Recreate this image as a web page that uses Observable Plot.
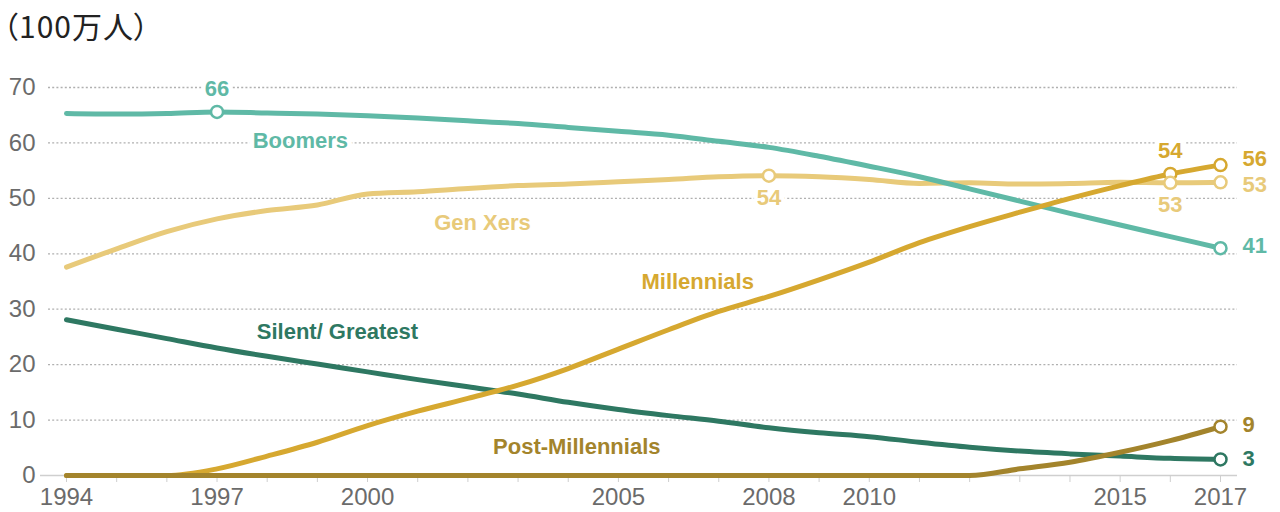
<!DOCTYPE html>
<html>
<head>
<meta charset="utf-8">
<script src="https://cdn.jsdelivr.net/npm/d3@7"></script>
<script src="https://cdn.jsdelivr.net/npm/@observablehq/plot@0.6"></script>
<style>
  html, body { margin: 0; padding: 0; background: #fff; }
  #title { height: 50px; line-height: 50px; padding-left: 3px; font-family: "Noto Sans CJK JP", sans-serif; font-size: 30px; color: #222; font-feature-settings: "palt"; letter-spacing: 1px; }
</style>
</head>
<body>
<div id="title">（100万人）</div>
<div id="chart"></div>
<script>
const years = [1994,1995,1996,1997,1998,1999,2000,2001,2002,2003,2004,2005,2006,2007,2008,2009,2010,2011,2012,2013,2014,2015,2016,2017];
const boomers = [65.3,65.2,65.3,65.6,65.4,65.2,64.9,64.5,64.0,63.5,62.8,62.1,61.4,60.3,59.2,57.6,55.8,53.9,51.7,49.5,47.3,45.2,43.1,41.0];
const genXers = [37.6,40.9,44.0,46.3,47.8,48.8,50.8,51.2,51.8,52.3,52.6,53.0,53.4,53.9,54.1,53.9,53.4,52.7,52.8,52.6,52.7,52.9,52.8,52.9];
const millennials = [0,0,0,1.2,3.5,6.0,9.0,11.6,13.9,16.3,19.3,22.8,26.3,29.6,32.3,35.3,38.5,42.0,44.9,47.5,50.0,52.3,54.4,56.0];
const silentGreatest = [28.1,26.4,24.7,23.0,21.5,20.1,18.7,17.3,16.0,14.7,13.2,11.9,10.8,9.8,8.6,7.7,7.0,6.0,5.1,4.4,3.9,3.5,3.1,2.9];
const postMillennials = [0,0,0,0,0,0,0,0,0,0,0,0,0,0,0,0,0,0,0,1.2,2.4,4.2,6.3,8.8];
const seriesNames = ["Boomers","Gen Xers","Millennials","Silent/ Greatest","Post-Millennials"];
const yTicks = [0,10,20,30,40,50,60,70];
const xTickLabels = [1994,1997,2000,2005,2008,2010,2015,2017];

const colors = {
  "Boomers": "#5fb9a6",
  "Gen Xers": "#e8ca7a",
  "Millennials": "#d6a830",
  "Silent/ Greatest": "#2e7862",
  "Post-Millennials": "#a3842c"
};
const seriesValues = {
  "Boomers": boomers,
  "Gen Xers": genXers,
  "Millennials": millennials,
  "Silent/ Greatest": silentGreatest,
  "Post-Millennials": postMillennials
};
const rows = seriesNames.flatMap(s => years.map((year, i) => ({series: s, year, value: seriesValues[s][i]})));
const pick = (s, yr) => rows.find(r => r.series === s && r.year === yr);

// highlighted points
const marked = [
  {...pick("Boomers", 1997), pos: "above"},
  {...pick("Gen Xers", 2008), pos: "below"},
  {...pick("Millennials", 2016), pos: "above"},
  {...pick("Gen Xers", 2016), pos: "below"},
  {...pick("Millennials", 2017), pos: "right", dy: -6},
  {...pick("Gen Xers", 2017), pos: "right", dy: 3},
  {...pick("Boomers", 2017), pos: "right", dy: -2},
  {...pick("Post-Millennials", 2017), pos: "right", dy: -2},
  {...pick("Silent/ Greatest", 2017), pos: "right", dy: 0}
];

// series name annotations (data units)
const nameLabels = [
  {series: "Boomers", year: 1998.66, value: 60.4},
  {series: "Gen Xers", year: 2002.29, value: 45.6},
  {series: "Millennials", year: 2006.58, value: 35.0},
  {series: "Silent/ Greatest", year: 1999.4, value: 25.9},
  {series: "Post-Millennials", year: 2004.17, value: 5.2}
];

const font = "'Liberation Sans', Arial, sans-serif";
const drawOrder = ["Gen Xers","Boomers","Silent/ Greatest","Millennials","Post-Millennials"];

const plot = Plot.plot({
  width: 1280,
  height: 462,
  marginTop: 37,
  marginBottom: 37,
  marginLeft: 66,
  marginRight: 60,
  style: {fontFamily: font, color: "#6b6b6b", background: "#fff", overflow: "visible"},
  x: {domain: [1994, 2017]},
  y: {domain: [0, 70]},
  marks: [
    Plot.ruleY(yTicks.filter(d => d > 0), {stroke: "#b0b0b0", strokeWidth: 1.3, strokeDasharray: "2,2.2", insetLeft: -18, insetRight: -17}),
    Plot.ruleY([0], {stroke: "#cfcfcf", strokeWidth: 1.5, insetLeft: -26, insetRight: -17}),
    Plot.axisY({ticks: yTicks, tickSize: 0, tickPadding: 31, fontSize: 24, label: null, fill: "#6b6b6b"}),
    Plot.axisX({ticks: years, tickSize: 7, tickPadding: 5, stroke: "#cfcfcf", fontSize: 24, label: null, fill: "#6b6b6b",
      tickFormat: d => xTickLabels.includes(d) ? String(d) : ""}),
    Plot.text(nameLabels, {x: "year", y: "value", text: "series", fill: d => colors[d.series],
      fontSize: 22, fontWeight: "bold", stroke: "white", strokeWidth: 10, paintOrder: "stroke", textAnchor: "middle"}),
    Plot.text(marked.filter(d => d.pos === "above"), {x: "year", y: "value", text: d => String(Math.round(d.value)),
      fill: d => colors[d.series], fontSize: 22, fontWeight: "bold", dy: -23, stroke: "white", strokeWidth: 8, paintOrder: "stroke"}),
    Plot.text(marked.filter(d => d.pos === "below"), {x: "year", y: "value", text: d => String(Math.round(d.value)),
      fill: d => colors[d.series], fontSize: 22, fontWeight: "bold", dy: 22, stroke: "white", strokeWidth: 8, paintOrder: "stroke"}),
    ...drawOrder.map(s => Plot.line(rows.filter(r => r.series === s), {
      x: "year", y: "value", stroke: colors[s], strokeWidth: 5, curve: "monotone-x", strokeLinecap: "round", strokeLinejoin: "round"})),
    Plot.dot(marked, {x: "year", y: "value", r: 6, fill: "white", stroke: d => colors[d.series], strokeWidth: 2.5}),
    ...marked.filter(d => d.pos === "right").map(d => Plot.text([d], {x: "year", y: "value", text: v => String(Math.round(v.value)),
      fill: colors[d.series], fontSize: 22, fontWeight: "bold", textAnchor: "start", dx: 22, dy: d.dy}))
  ]
});
document.getElementById("chart").appendChild(plot);
</script>
</body>
</html>
